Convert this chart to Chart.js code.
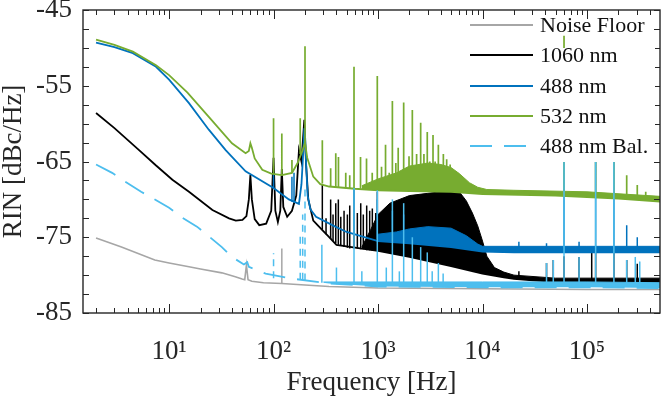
<!DOCTYPE html>
<html>
<head>
<meta charset="utf-8">
<script src="https://cdn.jsdelivr.net/npm/chart.js@4.4.1/dist/chart.umd.min.js"></script>
<style>
  html, body { margin: 0; padding: 0; background: #fff; }
</style>
</head>
<body>
<canvas id="rinChart" width="662" height="402"></canvas>
<script>
// ---- data (Hz, dBc/Hz) ----

// Noise floor
const noiseHz  = [2, 3.5, 7.3, 10, 15.5, 20, 32, 43, 50, 53, 55, 57, 62, 80, 120, 200, 340, 1000, 10000, 100000, 500000];
const noiseRin = [-75.1, -76.3, -78.0, -78.4, -78.9, -79.2, -79.7, -80.2, -80.5, -80.6, -78.7, -80.6, -80.8, -81.0, -81.1, -81.3, -81.5, -81.7, -81.8, -81.9, -81.9];
const noiseSpikeHz   = [120];
const noiseSpikeTop  = [-76.5];
const noiseSpikeBase = [-81.1];

// 1060 nm
const blackHz  = [2, 3, 5.16, 7.46, 10.76, 15.5, 26, 37.5, 43.5, 50.4, 55, 58, 60, 62, 66, 73, 85, 95, 100, 104, 110, 116, 120, 124, 135, 150, 165, 175, 185, 197, 205, 215, 240, 290, 330, 400, 700, 1000, 2000, 5000, 10000, 16000, 20000, 30000, 50000, 100000, 500000];
const blackRin = [-58.6, -60.6, -63.5, -65.5, -67.4, -69.0, -71.4, -72.5, -72.8, -72.7, -72.2, -70.0, -66.8, -70.0, -72.6, -73.4, -73.2, -71.5, -64.5, -71.5, -73.0, -71.5, -66.0, -71.0, -72.3, -71.5, -69.5, -63.5, -65.0, -59.5, -65.5, -70.0, -72.8, -74.0, -74.8, -76.0, -76.5, -76.8, -77.6, -78.8, -79.8, -80.3, -80.5, -80.7, -80.9, -81.0, -81.0];
const blackUpHz  = [700, 850, 1000, 1300, 2000, 3000, 4000, 5000, 6000, 7000, 8000, 9000, 10000, 11000, 13000, 16000, 20000, 50000, 500000];
const blackUpRin = [-76.3, -74.0, -72.0, -70.5, -69.5, -69.2, -69.0, -68.8, -69.0, -70.2, -71.8, -73.5, -75.5, -77.5, -79.0, -79.6, -80.0, -80.4, -80.4];
const blackSpikeHz   = [293, 318, 352, 371, 394, 417, 440, 473, 509, 536, 589, 634, 683, 723, 779, 832, 882, 950, 985, 22300, 41000, 47600, 60300, 84000, 111000, 121000, 181000, 240000, 303000];
const blackSpikeTop  = [-68.1, -72.5, -70.0, -72.0, -70.5, -70.0, -72.3, -71.5, -72.0, -70.8, -68.5, -71.8, -70.5, -72.0, -70.8, -71.5, -71.2, -71.8, -69.0, -79.5, -78.4, -78.0, -77.5, -77.6, -76.9, -77.0, -77.0, -78.0, -78.5];
const blackSpikeBase = [-74.0, -74.6, -75.2, -75.5, -75.8, -76.0, -76.1, -76.3, -76.4, -76.5, -76.5, -76.5, -76.6, -76.6, -76.7, -76.7, -76.8, -76.8, -76.8, -80.5, -80.7, -80.8, -80.8, -80.9, -80.9, -80.9, -81.0, -81.0, -81.0];

// 488 nm
const blueHz  = [2, 3, 4.5, 7.5, 10, 15.5, 24, 34.8, 54, 100, 140, 175, 185, 192, 197, 201, 206, 212, 225, 255, 390, 500, 1000, 2000, 5000, 10000, 20000, 100000, 500000];
const blueRin = [-49.3, -49.9, -50.7, -52.5, -54.2, -57.3, -60.8, -63.5, -66.3, -68.5, -70.0, -70.6, -68.0, -64.0, -60.6, -62.0, -66.0, -69.5, -71.3, -72.3, -73.6, -74.3, -75.5, -75.8, -76.3, -76.9, -77.0, -77.0, -77.0];
const blueUpHz  = [1000, 1500, 2000, 3000, 5000, 7000, 9000, 10000, 20000, 100000, 500000];
const blueUpRin = [-74.6, -74.3, -73.9, -73.6, -73.8, -74.8, -75.9, -76.2, -76.2, -76.2, -76.2];
const blueSpikeHz   = [100, 150, 157, 589, 984, 1372, 1760, 22300, 41000, 60300, 84000, 121000, 181000, 240000, 303000];
const blueSpikeTop  = [-66.5, -67.0, -66.5, -68.5, -70.0, -71.5, -72.0, -75.6, -75.8, -60.0, -75.6, -60.0, -60.0, -73.4, -75.0];
const blueSpikeBase = [-68.6, -70.3, -70.4, -74.5, -75.3, -75.5, -75.6, -76.9, -77.0, -77.0, -77.0, -77.0, -77.0, -77.0, -77.0];

// 532 nm
const greenHz  = [2, 3, 4.5, 7.5, 10, 15, 24, 40, 54, 58, 60, 62, 66, 78, 95, 120, 150, 170, 190, 200, 210, 240, 280, 340, 600, 1000, 2000, 5000, 10000, 50000, 100000, 200000, 500000];
const greenRin = [-48.9, -49.6, -50.5, -52.3, -53.6, -55.9, -59.1, -62.6, -63.9, -63.6, -62.6, -63.2, -64.6, -66.1, -66.6, -66.8, -66.5, -65.2, -63.5, -62.5, -64.5, -67.0, -68.0, -68.3, -68.6, -68.8, -68.9, -69.0, -69.3, -69.5, -69.7, -69.9, -70.3];
const greenUpHz  = [700, 1000, 1500, 2000, 3000, 4000, 5000, 6000, 7500, 9000, 11000, 20000, 100000, 500000];
const greenUpRin = [-68.2, -67.3, -66.5, -65.6, -65.2, -65.4, -65.8, -66.6, -67.8, -68.4, -68.7, -68.8, -69.0, -69.6];
const greenSpikeHz   = [100, 120, 150, 180, 200, 293, 352, 394, 418, 491, 536, 589, 680, 776, 880, 984, 1080, 1180, 1280, 1372, 1480, 1560, 1760, 1980, 2130, 2340, 2560, 2750, 2960, 3130, 3360, 3520, 3780, 4220, 4540, 4900, 60300, 121000, 181000, 240000, 303000, 365000];
const greenSpikeTop  = [-59.3, -61.3, -64.8, -59.3, -49.8, -62.2, -65.9, -63.9, -64.4, -66.5, -66.8, -52.5, -64.4, -64.6, -66.5, -53.7, -65.7, -62.8, -66.5, -57.0, -65.2, -63.2, -57.2, -64.3, -58.2, -64.0, -59.9, -64.0, -61.1, -65.0, -61.5, -65.0, -62.8, -64.0, -64.7, -65.4, -48.4, -55.0, -55.0, -66.8, -68.1, -69.0];
const greenSpikeBase = [-66.6, -66.8, -66.5, -64.0, -62.5, -67.9, -68.3, -68.4, -68.4, -68.5, -68.5, -68.6, -68.6, -68.6, -68.7, -68.7, -68.8, -68.8, -68.8, -68.8, -68.8, -68.8, -68.8, -68.8, -68.8, -68.9, -68.9, -68.9, -68.9, -68.9, -68.9, -68.9, -68.9, -68.9, -68.9, -69.0, -69.4, -69.6, -69.8, -69.9, -70.0, -70.1];

// 488 nm balanced
const balHz  = [2, 2.85, 3.55, 5.4, 6.9, 10, 13, 18.5, 23.2, 32, 40, 52, 56, 58, 84, 140, 340, 1000, 10000, 100000, 500000];
const balRin = [-65.4, -66.5, -67.4, -69.0, -69.8, -71.1, -72.3, -73.6, -74.7, -76.3, -77.6, -78.6, -78.3, -78.9, -79.8, -80.4, -81.1, -81.5, -81.6, -81.6, -81.7];
const balUpHz  = [300, 1000, 10000, 100000, 500000];
const balUpRin = [-80.9, -80.9, -80.9, -80.9, -81.0];
const balSpikeHz   = [100, 180, 190, 200, 290, 400, 589, 700, 984, 1200, 1372, 1600, 1760, 2130, 2560, 2960, 3300, 3780, 4200, 41000, 47600, 60300, 84000, 121000, 181000, 240000, 290000, 320000];
const balSpikeTop  = [-77.1, -74.5, -72.0, -68.3, -76.0, -79.0, -68.5, -79.5, -68.8, -79.0, -70.0, -79.5, -70.5, -75.0, -76.3, -77.0, -79.5, -78.4, -79.8, -78.4, -78.0, -55.0, -77.6, -55.0, -55.0, -78.0, -77.6, -78.2];
const balSpikeBase = [-80.4, -80.6, -80.6, -80.7, -81.0, -81.2, -81.2, -81.2, -81.2, -81.2, -81.2, -81.2, -81.2, -81.2, -81.2, -81.2, -81.2, -81.2, -81.2, -81.4, -81.4, -81.4, -81.4, -81.4, -81.4, -81.4, -81.4, -81.4];

// axes
const xMajorHz = [10, 100, 1000, 10000, 100000];
const xMinorSteps = [2, 3, 4, 5, 6, 7, 8, 9];
const yTickLabels = ['-85', '-75', '-65', '-55', '-45'];
const legendLabels = ['Noise Floor', '1060 nm', '488 nm', '532 nm', '488 nm Bal.'];

// ---- styling ----
const serif = "'Liberation Serif', 'Times New Roman', serif";
const axisColor = '#262626';
const colGray = '#a6a6a6';
const colBlack = '#000000';
const colBlue = '#0072bd';
const colGreen = '#77ac30';
const colCyan = '#4dbeee';
const balDash = [22, 12];

function points(hz, rin) {
    return hz.map((f, i) => ({ x: f, y: rin[i] }));
}

// vertical spike segments, separated by gaps
function spikes(hz, top, base) {
    const out = [];
    hz.forEach((f, i) => {
        out.push({ x: f, y: base[i] }, { x: f, y: top[i] }, { x: f, y: null });
    });
    return out;
}

function lineSet(label, data, color, width, order, extra) {
    return Object.assign({
        label: label,
        data: data,
        borderColor: color,
        backgroundColor: color,
        borderWidth: width,
        pointRadius: 0,
        tension: 0,
        fill: false,
        order: order
    }, extra || {});
}

const datasets = [
    lineSet('Noise Floor', points(noiseHz, noiseRin), colGray, 1.6, 10),                         // 0
    lineSet('noise spikes', spikes(noiseSpikeHz, noiseSpikeTop, noiseSpikeBase), colGray, 1.5, 10),
    lineSet('1060 nm', points(blackHz, blackRin), colBlack, 1.8, 8),                              // 2
    lineSet('1060 band', points(blackUpHz, blackUpRin), colBlack, 1, 8, { fill: 2 }),
    lineSet('1060 spikes', spikes(blackSpikeHz, blackSpikeTop, blackSpikeBase), colBlack, 1.5, 8),
    lineSet('488 nm', points(blueHz, blueRin), colBlue, 1.8, 6),                                  // 5
    lineSet('488 band', points(blueUpHz, blueUpRin), colBlue, 1, 6, { fill: 5 }),
    lineSet('488 spikes', spikes(blueSpikeHz, blueSpikeTop, blueSpikeBase), colBlue, 1.5, 6),
    lineSet('532 nm', points(greenHz, greenRin), colGreen, 1.8, 4),                               // 8
    lineSet('532 band', points(greenUpHz, greenUpRin), colGreen, 1, 4, { fill: 8 }),
    lineSet('532 spikes', spikes(greenSpikeHz, greenSpikeTop, greenSpikeBase), colGreen, 1.7, 4),
    lineSet('488 nm Bal.', points(balHz, balRin), colCyan, 1.8, 2, { borderDash: balDash }),      // 11
    lineSet('Bal band', points(balUpHz, balUpRin), colCyan, 1, 2, { fill: 11 }),
    lineSet('Bal spikes', spikes(balSpikeHz, balSpikeTop, balSpikeBase), colCyan, 1.5, 2, {
        segment: { borderDash: ctx => ctx.p0.parsed.x < 250 ? [7, 5] : undefined }
    })
];

const supDigits = ['⁰', '¹', '²', '³', '⁴', '⁵', '⁶'];

// box + inward ticks on all four sides
const frame = {
    id: 'frame',
    afterDatasetsDraw(chart) {
        const { ctx, chartArea: a, scales } = chart;
        ctx.save();
        ctx.strokeStyle = axisColor;
        ctx.lineWidth = 1;
        ctx.beginPath();
        scales.x.ticks.forEach(t => {
            const px = Math.round(scales.x.getPixelForValue(t.value)) + 0.5;
            const len = xMajorHz.includes(t.value) ? 9 : 5;
            ctx.moveTo(px, a.bottom); ctx.lineTo(px, a.bottom - len);
            ctx.moveTo(px, a.top); ctx.lineTo(px, a.top + len);
        });
        scales.y.ticks.forEach(t => {
            const py = Math.round(scales.y.getPixelForValue(t.value)) + 0.5;
            ctx.moveTo(a.left, py); ctx.lineTo(a.left + 6, py);
            ctx.moveTo(a.right, py); ctx.lineTo(a.right - 6, py);
        });
        ctx.stroke();
        ctx.lineWidth = 1.4;
        ctx.strokeRect(a.left, a.top, a.right - a.left, a.bottom - a.top);
        ctx.restore();
    }
};

// legend inside the axes, upper right
const rinLegend = {
    id: 'rinLegend',
    afterDraw(chart) {
        const ctx = chart.ctx;
        const colors = [colGray, colBlack, colBlue, colGreen, colCyan];
        const rowY = [25, 55, 86, 116, 146];
        ctx.save();
        ctx.fillStyle = '#fff';
        ctx.fillRect(463, 48, 192, 114);
        ctx.font = '22px ' + serif;
        ctx.textBaseline = 'middle';
        legendLabels.forEach((label, i) => {
            ctx.strokeStyle = colors[i];
            ctx.lineWidth = 1.8;
            ctx.setLineDash(i === 4 ? balDash : []);
            ctx.beginPath();
            ctx.moveTo(470, rowY[i]);
            ctx.lineTo(533, rowY[i]);
            ctx.stroke();
            ctx.fillStyle = '#111';
            ctx.fillText(label, 540, rowY[i] + 1);
        });
        ctx.restore();
    }
};

new Chart(document.getElementById('rinChart'), {
    type: 'line',
    data: { datasets: datasets },
    options: {
        responsive: false,
        animation: false,
        layout: { padding: { top: 10, right: 2, left: 0, bottom: 0 } },
        plugins: {
            legend: { display: false },
            tooltip: { enabled: false }
        },
        scales: {
            x: {
                type: 'logarithmic',
                min: 1.5,
                max: 500000,
                grid: { display: false, drawTicks: false },
                border: { display: false },
                afterBuildTicks(scale) {
                    const ticks = [];
                    [1].concat(xMajorHz).forEach(dec => {
                        if (dec >= 10) ticks.push({ value: dec });
                        xMinorSteps.forEach(m => {
                            const v = dec * m;
                            if (v > 1.5 && v < 500000) ticks.push({ value: v });
                        });
                    });
                    scale.ticks = ticks.sort((p, q) => p.value - q.value);
                },
                afterFit(scale) {
                    scale.height = 89;
                    scale.paddingLeft = 0;
                    scale.paddingRight = 0;
                },
                ticks: {
                    autoSkip: false,
                    maxRotation: 0,
                    padding: 23,
                    color: '#262626',
                    font: { family: serif, size: 27, lineHeight: 1.2 },
                    callback(value) {
                        if (!xMajorHz.includes(value)) return '';
                        return '10' + supDigits[Math.round(Math.log10(value))];
                    }
                },
                title: {
                    display: true,
                    text: 'Frequency [Hz]',
                    color: '#262626',
                    font: { family: serif, size: 27, lineHeight: 1 },
                    padding: { top: 0, bottom: 6 }
                }
            },
            y: {
                type: 'linear',
                min: -85,
                max: -45,
                grid: { display: false, drawTicks: false },
                border: { display: false },
                afterFit(scale) {
                    scale.width = 83;
                    scale.paddingTop = 0;
                    scale.paddingBottom = 0;
                },
                ticks: {
                    stepSize: 2.5,
                    autoSkip: false,
                    padding: 11,
                    color: '#262626',
                    font: { family: serif, size: 27, lineHeight: 1.2 },
                    callback(value) {
                        const s = String(value);
                        return yTickLabels.includes(s) ? s : '';
                    }
                },
                title: {
                    display: true,
                    text: 'RIN [dBc/Hz]',
                    color: '#262626',
                    font: { family: serif, size: 27, lineHeight: 1 },
                    padding: { top: 0, bottom: 0 }
                }
            }
        }
    },
    plugins: [frame, rinLegend]
});
</script>
</body>
</html>
